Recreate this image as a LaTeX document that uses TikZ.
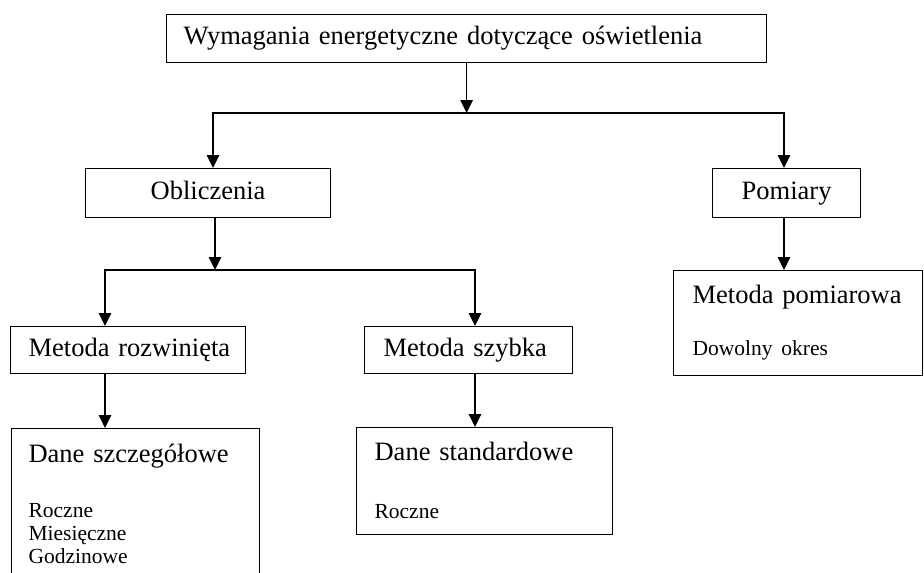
\documentclass[tikz,border=0pt]{standalone}
\usepackage{fontspec}
\setmainfont{Liberation Serif}
\usepackage{tikz}
\usetikzlibrary{positioning,arrows.meta}

\newcommand{\bigtxt}{\fontsize{26.5}{23}\selectfont}
\newcommand{\smalltxt}{\fontsize{21.5}{23}\selectfont}

\tikzset{
  box/.style={draw, line width=1.2pt, anchor=north west, inner ysep=0pt, text height=18pt, text depth=6pt, font=\bigtxt},
  leftbox/.style={box, align=left},
  listbox/.style={draw, line width=1.2pt, anchor=north west, inner ysep=15pt, align=left, font=\bigtxt},
  arr/.style={line width=1.2pt, -{Triangle[width=12.5pt,length=13pt]}},
  conn/.style={line width=1.2pt, line cap=rect}
}

\begin{document}
\begin{tikzpicture}[x=1pt, y=-1pt]
                \clip (0,0) rectangle (924,573);
                \node[leftbox, inner xsep=17pt, text width=566pt, minimum height=48pt] (wymagania) at (166,14) {Wymagania~energetyczne~dotyczące~oświetlenia};
                \node[box, minimum width=245pt, minimum height=49pt] (obliczenia) at (85,168) {Obliczenia};
                \node[box, minimum width=148pt, minimum height=49pt] (pomiary) at (712,168) {Pomiary};
                \node[leftbox, inner xsep=18pt, text width=199pt, minimum height=47pt] (rozwinieta) at (10,326) {Metoda~rozwinięta};
                \node[leftbox, inner xsep=19pt, text width=170pt, minimum height=47pt] (szybka) at (364,326) {Metoda~szybka};
                \node[listbox, inner xsep=17pt, text width=214pt] (szczegolowe) at (11,428) {Dane~szczegółowe\\[32pt]\smalltxt Roczne\\Miesięczne\\Godzinowe};
                \node[listbox, inner xsep=18pt, text width=220pt] (standardowe) at (356,427) {Dane~standardowe\\[35pt]\smalltxt Roczne};
                \node[listbox, inner xsep=19pt, text width=211pt] (pomiarowa) at (673,270) {Metoda~pomiarowa\\[29pt]\smalltxt Dowolny~okres};
                \coordinate (split1l) at (213,113);
                \coordinate (split1r) at (784,113);
                \coordinate (split2) at (215,270);
                \coordinate (split2l) at (105,270);
                \coordinate (split2r) at (475,270);
                \draw[arr] (wymagania.south) -- (wymagania.south |- split1l);
                \draw[conn] (split1l) -- (split1r);
                \draw[arr] (split1l) -- (obliczenia.north -| split1l);
                \draw[arr] (split1r) -- (pomiary.north -| split1r);
                \draw[arr] (obliczenia.south -| split2) -- (split2);
                \draw[conn] (split2l) -- (split2r);
                \draw[arr] (split2l) -- (rozwinieta.north -| split2l);
                \draw[arr] (split2r) -- (szybka.north -| split2r);
                \draw[arr] (rozwinieta.south -| split2l) -- (szczegolowe.north -| split2l);
                \draw[arr] (szybka.south -| split2r) -- (standardowe.north -| split2r);
                \draw[arr] (pomiary.south -| split1r) -- (pomiarowa.north -| split1r);
            \end{tikzpicture}
\end{document}
